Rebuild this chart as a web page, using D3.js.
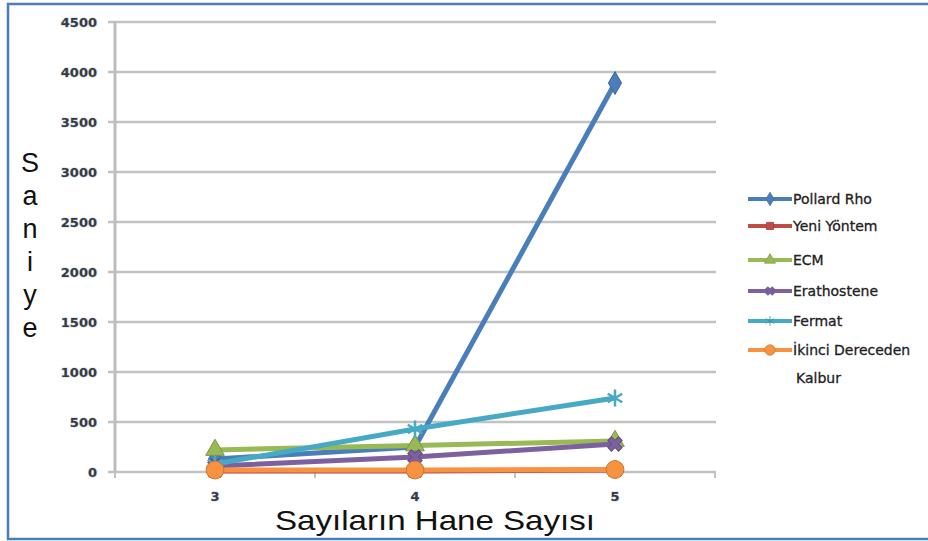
<!DOCTYPE html>
<html>
<head>
<meta charset="utf-8">
<script src="https://cdn.jsdelivr.net/npm/d3@7"></script>
<style>
  body { margin: 0; background: #fff; }
  text { font-family: "Liberation Sans", Arial, sans-serif; }
</style>
</head>
<body>
<svg id="chart" width="928" height="541"></svg>
<script>
// data
var categories = ["3", "4", "5"];
var seriesNames = ["Pollard Rho", "Yeni Yöntem", "ECM", "Erathostene", "Fermat", "İkinci Dereceden Kalbur"];
var pollardRho = [130, 250, 3890];
var yeniYontem = [10, 10, 20];
var ecm = [220, 265, 310];
var erathostene = [60, 150, 280];
var fermat = [80, 430, 740];
var ikinciDereceden = [20, 20, 25];
var yTicks = [0, 500, 1000, 1500, 2000, 2500, 3000, 3500, 4000, 4500];

var seriesValues = [pollardRho, yeniYontem, ecm, erathostene, fermat, ikinciDereceden];
var colors = ["#4a7ebb", "#be4b48", "#98b954", "#7d60a0", "#46aac5", "#f69240"];
var symbols = [d3.symbolDiamond, d3.symbolSquare, d3.symbolTriangle, d3.symbolCross, d3.symbolAsterisk, d3.symbolCircle];
var symSizes = [150, 150, 150, 130, 200, 250];
var symRotate = [0, 0, 0, 45, 0, 0];

var svg = d3.select("#chart");

// outer frame (runs off the right edge)
svg.append("rect")
  .attr("x", 8).attr("y", 4)
  .attr("width", 940).attr("height", 535)
  .attr("fill", "none")
  .attr("stroke", "#4a7ebb")
  .attr("stroke-width", 2.5);

var x = d3.scaleBand().domain(categories).range([115, 715]);
var y = d3.scaleLinear().domain([0, 4500]).range([472, 22]);

// gridlines
svg.append("g").selectAll("line").data(yTicks).enter().append("line")
  .attr("x1", 108).attr("x2", 716)
  .attr("y1", function(d) { return y(d); })
  .attr("y2", function(d) { return y(d); })
  .attr("stroke", "#c2c2c2").attr("stroke-width", 2.5);

// y axis line
svg.append("line")
  .attr("x1", 115).attr("x2", 115).attr("y1", y(4500) - 1).attr("y2", y(0) + 1)
  .attr("stroke", "#bdbdbd").attr("stroke-width", 3);

// x ticks at band edges
var edges = [115].concat(categories.map(function(c) { return x(c) + x.bandwidth(); }));
svg.append("g").selectAll("line").data(edges).enter().append("line")
  .attr("x1", function(d) { return d; }).attr("x2", function(d) { return d; })
  .attr("y1", y(0)).attr("y2", y(0) + 6)
  .attr("stroke", "#c2c2c2").attr("stroke-width", 2);

function tickText(sel) {
  sel.style("font-family", "'DejaVu Sans', sans-serif")
    .attr("font-size", 13)
    .attr("font-weight", "bold")
    .attr("fill", "#3a3a3a")
    .style("paint-order", "stroke")
    .attr("stroke", "#c9d8ee").attr("stroke-width", 1.2);
}

// y tick labels
svg.append("g").selectAll("text").data(yTicks).enter().append("text")
  .attr("x", 97)
  .attr("y", function(d) { return y(d) + 5; })
  .attr("text-anchor", "end")
  .call(tickText)
  .text(function(d) { return d; });

// x tick labels
svg.append("g").selectAll("text").data(categories).enter().append("text")
  .attr("x", function(d) { return x(d) + x.bandwidth() / 2; })
  .attr("y", 501)
  .attr("text-anchor", "middle")
  .call(tickText)
  .text(function(d) { return d; });

// axis titles
svg.append("text")
  .attr("x", 275).attr("y", 530)
  .attr("font-size", 28)
  .attr("textLength", 320)
  .attr("lengthAdjust", "spacingAndGlyphs")
  .attr("fill", "#111")
  .text("Sayıların Hane Sayısı");

var yTitle = "Saniye".split("");
svg.append("g").selectAll("text").data(yTitle).enter().append("text")
  .attr("x", 30)
  .attr("y", function(d, i) { return 172 + i * 33; })
  .attr("text-anchor", "middle")
  .attr("font-size", 27)
  .attr("fill", "#111")
  .text(function(d) { return d; });

// series
var line = d3.line()
  .x(function(d, i) { return x(categories[i]) + x.bandwidth() / 2; })
  .y(function(d) { return y(d); });

seriesValues.forEach(function(vals, s) {
  var g = svg.append("g");
  g.append("path")
    .attr("d", line(vals))
    .attr("fill", "none")
    .attr("stroke", colors[s])
    .attr("stroke-width", 5)
    .attr("stroke-linejoin", "round");
  g.selectAll("path.m").data(vals).enter().append("path")
    .attr("class", "m")
    .attr("transform", function(d, i) {
      return "translate(" + (x(categories[i]) + x.bandwidth() / 2) + "," + y(d) + ") rotate(" + symRotate[s] + ")";
    })
    .attr("d", d3.symbol().type(symbols[s]).size(symSizes[s]))
    .attr("fill", colors[s])
    .attr("stroke", s === 4 ? colors[s] : d3.color(colors[s]).darker(0.6))
    .attr("stroke-width", s === 4 ? 2.5 : 1);
});

// legend
var legendY = [199, 226, 260, 291, 321, 350];
var legend = svg.append("g");
function legendText(sel) {
  sel.style("font-family", "'DejaVu Sans', sans-serif")
    .attr("font-size", 14)
    .attr("fill", "#222")
    .attr("stroke", "#222").attr("stroke-width", 0.3);
}
seriesNames.forEach(function(name, s) {
  var ly = legendY[s];
  legend.append("line")
    .attr("x1", 748).attr("x2", 792).attr("y1", ly).attr("y2", ly)
    .attr("stroke", colors[s]).attr("stroke-width", 4);
  legend.append("path")
    .attr("transform", "translate(770," + ly + ") rotate(" + symRotate[s] + ")")
    .attr("d", d3.symbol().type(symbols[s]).size(symSizes[s] * 0.35))
    .attr("fill", colors[s])
    .attr("stroke", d3.color(colors[s]).darker(0.4))
    .attr("stroke-width", 0.8);
  var t = legend.append("text")
    .attr("x", 793).attr("y", ly + 5)
    .call(legendText);
  if (s === 5) {
    t.text("İkinci Dereceden");
    legend.append("text")
      .attr("x", 796).attr("y", 383)
      .call(legendText)
      .text("Kalbur");
  } else {
    t.text(name);
  }
});
</script>
</body>
</html>
